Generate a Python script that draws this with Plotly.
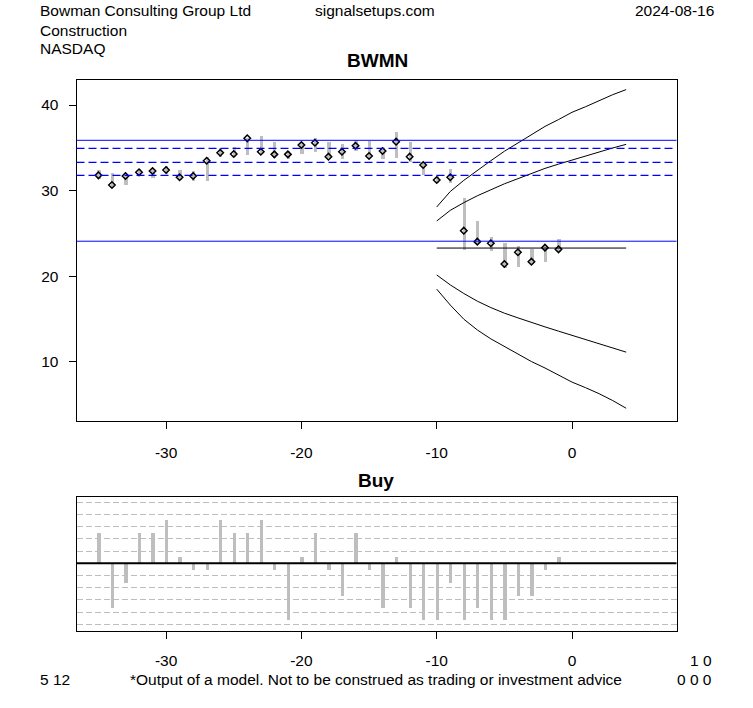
import plotly.graph_objects as go

# ---------------- data ----------------
days = list(range(-35, 0))
highs = [32.41, 32.03, 31.95, 32.49, 32.57, 32.88, 32.41, 32.26, 33.97, 34.94,
         35.06, 36.18, 36.38, 35.65, 34.67, 35.61, 36.18, 35.72, 35.41, 35.91,
         35.83, 34.83, 36.81, 35.72, 33.38, 31.83, 32.49, 29.11, 26.46, 24.55,
         23.86, 23.58, 23.15, 23.58, 24.32]
lows = [31.33, 30.47, 30.66, 31.71, 31.44, 31.95, 31.25, 31.17, 31.09, 33.89,
        33.97, 34.13, 34.28, 33.78, 33.66, 34.28, 34.48, 33.78, 33.66, 34.63,
        33.85, 33.70, 33.78, 33.38, 31.83, 30.86, 30.86, 23.07, 23.85, 22.99,
        20.94, 21.13, 21.44, 21.71, 22.88]
closes = [31.79, 30.66, 31.71, 32.14, 32.30, 32.41, 31.56, 31.71, 33.50, 34.43,
          34.28, 36.11, 34.55, 34.24, 34.24, 35.33, 35.60, 33.97, 34.55, 35.25,
          34.05, 34.63, 35.72, 33.97, 33.00, 31.25, 31.56, 25.33, 24.05, 23.86,
          21.44, 22.81, 21.71, 23.35, 23.15]

signal = [2.5, -3.7, -1.6, 2.5, 2.5, 3.5, 0.5, -0.6, -0.6, 3.5,
          2.5, 2.5, 3.5, -0.6, -4.7, 0.5, 2.5, -0.6, -2.7, 2.5,
          -0.6, -3.7, 0.5, -3.7, -4.7, -4.7, -1.6, -4.7, -3.7, -4.7,
          -4.7, -2.7, -2.7, -0.6, 0.5]

fc_x = list(range(-10, 5))
fc_upper_outer = [28.1, 29.9, 31.2, 32.4, 33.5, 34.6, 35.6, 36.5, 37.5, 38.3,
                  39.15, 39.8, 40.5, 41.2, 41.8]
fc_upper_inner = [26.46, 27.7, 28.6, 29.4, 30.1, 30.8, 31.4, 32.0, 32.6, 33.1,
                  33.58, 34.08, 34.55, 34.98, 35.41]
fc_lower_inner = [20.16, 19.0, 18.0, 17.1, 16.35, 15.7, 15.15, 14.6, 14.1, 13.6,
                  13.1, 12.6, 12.1, 11.6, 11.15]
fc_lower_outer = [18.5, 16.65, 15.0, 13.74, 12.7, 11.8, 10.9, 10.05, 9.3, 8.5,
                  7.65, 7.0, 6.3, 5.5, 4.6]
forecast_level = 23.3

blue_solid_levels = [35.88, 24.1]
blue_dashed_levels = [34.94, 33.31, 31.79]

x_ticks = [-30, -20, -10, 0]
x_tick_labels = ["-30", "-20", "-10", "0"]
y_ticks = [10, 20, 30, 40]
y_tick_labels = ["10", "20", "30", "40"]
signal_grid = [-5, -4, -3, -2, -1, 1, 2, 3, 4, 5]

# ---------------- layout helpers ----------------
W, H = 753, 708
def px(xp):
    return xp / W
def py(yp):
    return 1 - yp / H

FONT = "Liberation Sans, Arial, sans-serif"
FS = 15.5
GRAY = "#BEBEBE"

fig = go.Figure()

# high-low bars
fig.add_trace(go.Bar(
    x=days, y=[h - l for h, l in zip(highs, lows)], base=lows,
    width=0.24, marker=dict(color=GRAY, line=dict(width=0)),
    xaxis="x", yaxis="y", showlegend=False, hoverinfo="skip"))

# close markers
fig.add_trace(go.Scatter(
    x=days, y=closes, mode="markers",
    marker=dict(symbol="diamond-open", size=5, color="black",
                line=dict(color="black", width=1.5)),
    xaxis="x", yaxis="y", showlegend=False))

# forecast curves
for ys in (fc_upper_outer, fc_upper_inner, fc_lower_inner, fc_lower_outer):
    fig.add_trace(go.Scatter(
        x=fc_x, y=ys, mode="lines", line=dict(color="black", width=1),
        xaxis="x", yaxis="y", showlegend=False))

# signal bars
fig.add_trace(go.Bar(
    x=days, y=signal, width=0.24,
    marker=dict(color=GRAY, line=dict(width=0)),
    xaxis="x2", yaxis="y2", showlegend=False))

shapes = []
for lv in blue_solid_levels:
    shapes.append(dict(type="line", xref="x domain", yref="y", x0=0, x1=1,
                       y0=lv, y1=lv, line=dict(color="#0000FF", width=1)))
for lv in blue_dashed_levels:
    shapes.append(dict(type="line", xref="x domain", yref="y", x0=0, x1=1,
                       y0=lv, y1=lv,
                       line=dict(color="#0000FF", width=1.3, dash="8px,4px")))
shapes.append(dict(type="line", xref="x", yref="y", x0=fc_x[0], x1=fc_x[-1],
                   y0=forecast_level, y1=forecast_level,
                   line=dict(color="black", width=1)))
shapes.append(dict(type="line", xref="x2 domain", yref="y2", x0=0, x1=1,
                   y0=0, y1=0, line=dict(color="black", width=2)))

axis_common = dict(showline=True, mirror=True, linecolor="black", linewidth=1,
                   ticks="outside", ticklen=7, tickcolor="black", tickwidth=1,
                   showgrid=False, zeroline=False,
                   tickfont=dict(family=FONT, size=FS, color="black"))

xdom = [px(76.5), px(676.5)]
fig.update_layout(
    width=W, height=H, margin=dict(l=0, r=0, t=0, b=0),
    paper_bgcolor="white", plot_bgcolor="white",
    font=dict(family=FONT, size=FS, color="black"),
    shapes=shapes,
    xaxis=dict(domain=xdom, range=[-36.62, 7.72], tickvals=x_ticks,
               ticktext=x_tick_labels, ticklabelstandoff=10,
               anchor="y", **axis_common),
    yaxis=dict(domain=[py(421), py(80)], range=[3.11, 42.92], tickvals=y_ticks,
               ticktext=y_tick_labels, ticklabelstandoff=7,
               anchor="x", **axis_common),
    xaxis2=dict(domain=xdom, range=[-36.62, 7.72], tickvals=x_ticks,
                ticktext=x_tick_labels, ticklabelstandoff=8,
                anchor="y2", **axis_common),
    yaxis2=dict(domain=[py(631), py(497.3)], range=[-5.55, 5.41],
                tickvals=signal_grid, showticklabels=False,
                showline=True, mirror=True, linecolor="black", linewidth=1,
                ticks="", zeroline=False, showgrid=True, gridcolor=GRAY,
                gridwidth=1, griddash="6px,3px", anchor="x2"),
    bargap=0,
)

def txt(text, x, y, xanchor="left", size=FS, bold=False):
    fig.add_annotation(text=("<b>%s</b>" % text) if bold else text,
                       x=px(x), y=py(y), xref="paper", yref="paper",
                       xanchor=xanchor, yanchor="middle", showarrow=False,
                       font=dict(family=FONT, size=size, color="black"))

txt("Bowman Consulting Group Ltd", 38, 11)
txt("Construction", 38, 30)
txt("NASDAQ", 38, 48)
txt("signalsetups.com", 375, 11, "center")
txt("2024-08-16", 716, 11, "right")
txt("BWMN", 377, 60, "center", size=19, bold=True)
txt("Buy", 376, 480, "center", size=19, bold=True)
txt("5 12", 38, 679)
txt("*Output of a model. Not to be construed as trading or investment advice",
    376, 679, "center")
txt("1 0", 714, 660, "right")
txt("0 0 0", 714, 679, "right")

fig.write_html("out.html", config={"displayModeBar": False},
               post_script="document.body.style.margin='0';")
